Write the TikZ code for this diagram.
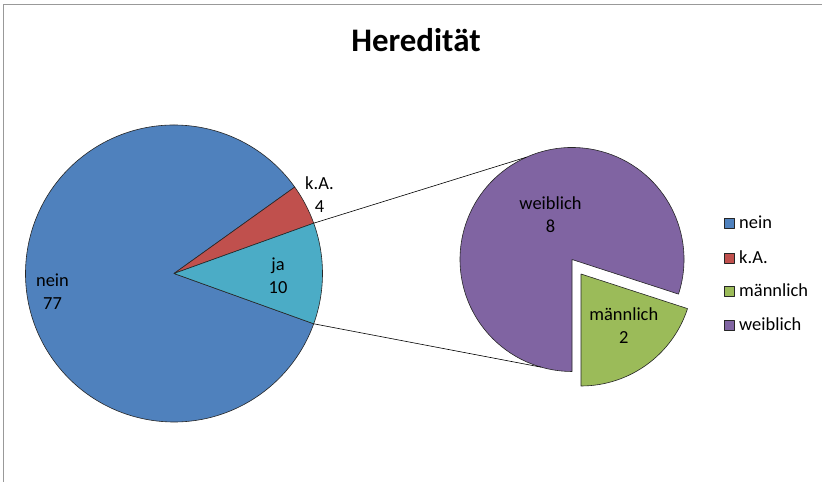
\documentclass[tikz,border=0pt]{standalone}
\usepackage{fontspec}
\setmainfont{Carlito}
\definecolor{neinblue}{HTML}{4F81BD}
\definecolor{kared}{HTML}{C0504D}
\definecolor{jateal}{HTML}{4BACC6}
\definecolor{maengreen}{HTML}{9BBB59}
\definecolor{weibpurple}{HTML}{8064A2}
\definecolor{framegray}{HTML}{999999}
\tikzset{
  slice/.style={draw=black!85,line width=0.6bp},
  lbl/.style={align=center,inner sep=0pt,font=\fontsize{18.5}{23}\selectfont},
  keybox/.style={draw=black!85,line width=0.6bp,minimum size=10bp,inner sep=0pt,anchor=south west},
  keytext/.style={anchor=base west,inner sep=0pt,font=\fontsize{18.5}{21}\selectfont},
}
\begin{document}
\begin{tikzpicture}[>=latex,line join=bevel,x=1bp,y=1bp]
%%
\useasboundingbox (0,0) rectangle (822,482);
\draw [framegray,line width=1.6bp] (3.5,0) -- (3.5,477.5) -- (822,477.5);
%
\node (title) at (416,430.3) [anchor=base,inner sep=0pt] {\fontsize{33}{40}\selectfont\bfseries Heredität};
%
\coordinate (pie_main) at (174,208.5);
\coordinate (pie_sub) at (572,222.5);
\coordinate (pie_sub_out) at (581,208);
%
\filldraw [slice,fill=neinblue] (pie_main) -- ++(35.6:148.5bp) arc[start angle=35.6,end angle=340.2,radius=148.5bp] -- cycle;
\filldraw [slice,fill=kared] (pie_main) -- ++(19.8:148.5bp) arc[start angle=19.8,end angle=35.6,radius=148.5bp] -- cycle;
\filldraw [slice,fill=jateal] (pie_main) -- ++(-19.8:148.5bp) arc[start angle=-19.8,end angle=19.8,radius=148.5bp] -- cycle;
\filldraw [slice,fill=weibpurple] (pie_sub) -- ++(-18:112bp) arc[start angle=-18,end angle=270,radius=112bp] -- cycle;
\filldraw [slice,fill=maengreen] (pie_sub_out) -- ++(-90:112bp) arc[start angle=-90,end angle=-18,radius=112bp] -- cycle;
%
\path (pie_main) ++(19.8:148.5bp) coordinate (ja_top);
\path (pie_main) ++(-19.8:148.5bp) coordinate (ja_bottom);
\path (pie_sub) ++(114:112bp) coordinate (sub_top);
\path (pie_sub) ++(-106:112bp) coordinate (sub_bottom);
\draw [black,line width=0.6bp] (ja_top) -- (sub_top);
\draw [black,line width=0.6bp] (ja_bottom) -- (sub_bottom);
%
\node (lbl_nein) at (52.5,190.5) [lbl] {nein\\77};
\node (lbl_ka) at (319.5,287.5) [lbl] {k.A.\\4};
\node (lbl_ja) at (278,206) [lbl] {ja\\10};
\node (lbl_weib) at (550.5,267) [lbl] {weiblich\\8};
\node (lbl_maen) at (623.8,156.2) [lbl] {männlich\\2};
%
\node (key_nein) at (724.3,253.7) [keybox,fill=neinblue] {};
\node (key_nein_text) at (739,253.7) [keytext] {nein};
\node (key_ka) at (724.3,218.7) [keybox,fill=kared] {};
\node (key_ka_text) at (739,218.7) [keytext] {k.A.};
\node (key_maen) at (724.3,185.3) [keybox,fill=maengreen] {};
\node (key_maen_text) at (739,185.3) [keytext] {männlich};
\node (key_weib) at (724.3,151) [keybox,fill=weibpurple] {};
\node (key_weib_text) at (739,151) [keytext] {weiblich};
%
\end{tikzpicture}
\end{document}
